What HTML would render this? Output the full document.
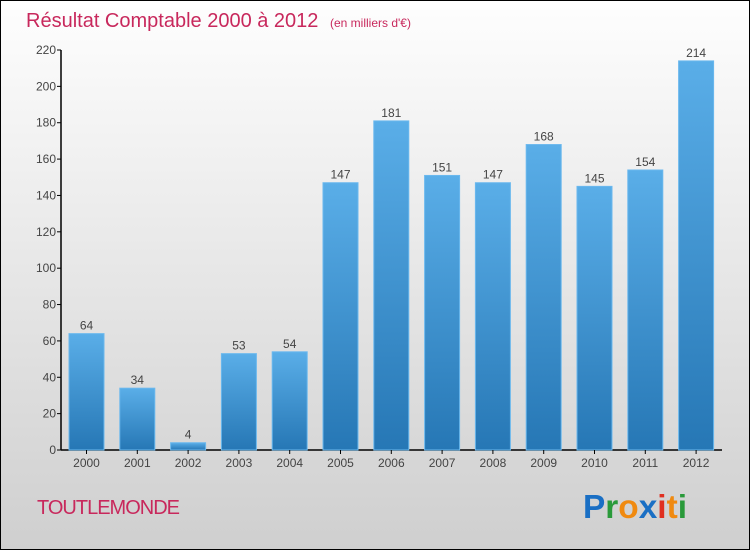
<!DOCTYPE html>
<html><head><meta charset="utf-8"><style>
html,body{margin:0;padding:0}
body{width:750px;height:550px;overflow:hidden;font-family:"Liberation Sans",sans-serif}
#wrap{position:absolute;left:0;top:0;width:748px;height:548px;border:1px solid #000;background:linear-gradient(#fefefe,#cfcfcf)}
</style></head><body>
<div id="wrap">
<svg id="chart" width="748" height="548">
<defs><linearGradient id="g" x1="0" y1="0" x2="0" y2="1"><stop offset="0" stop-color="#5aaee8"/><stop offset="1" stop-color="#2677b5"/></linearGradient></defs>
<text x="25" y="26" font-size="20" fill="#c8285c">Résultat Comptable 2000 à 2012 <tspan font-size="12" dx="6">(en milliers d'€)</tspan></text>
<text x="36" y="513" font-size="20" fill="#c8285c" letter-spacing="-1" font-weight="300">TOUTLEMONDE</text>
<g font-size="33" font-weight="bold" font-family="Liberation Sans,sans-serif">
<text x="582" y="517" textLength="104" lengthAdjust="spacingAndGlyphs"><tspan fill="#1a6fc4">P</tspan><tspan fill="#2a9a3a">r</tspan><tspan fill="#f08a10">o</tspan><tspan fill="#1a6fc4">x</tspan><tspan fill="#e03020">i</tspan><tspan fill="#f08a10">t</tspan><tspan fill="#2a9a3a">i</tspan></text></g>
<g id="plot"></g>
</svg></div>
<script>
const categories=["2000","2001","2002","2003","2004","2005","2006","2007","2008","2009","2010","2011","2012"];
const values=[64,34,4,53,54,147,181,151,147,168,145,154,214];
const yTicks=[0,20,40,60,80,100,120,140,160,180,200,220];
const NS="http://www.w3.org/2000/svg";
const g=document.getElementById('plot');
const y0=449,yScale=400/220;
function y(v){return y0-v*yScale;}
function xc(i){return 85.5+i*50.8;}
function mk(t,a){const e=document.createElementNS(NS,t);for(const k in a)e.setAttribute(k,a[k]);g.appendChild(e);return e;}
let ax=mk('line',{x1:60,y1:y(220),x2:60,y2:y0,stroke:'#000','stroke-width':1.5});


let bx=mk('line',{x1:60,y1:y0,x2:721,y2:y0,stroke:'#000','stroke-width':1.5});


yTicks.forEach(t=>{
 let l=mk('line',{x1:56,x2:60,y1:y(t),y2:y(t),stroke:'#000'});
 
 
 let tx=mk('text',{x:55,y:y(t)+4,'font-size':12,fill:'#444','text-anchor':'end'});
 tx.textContent=t;
 
 
});
categories.forEach((c,i)=>{
 const v=values[i];
 let r=mk('rect',{x:xc(i)-17.5,y:y(v),width:35,height:y0-y(v),fill:'url(#g)',stroke:'#6ab8ee','stroke-width':1});
 
 
 let vl=mk('text',{x:xc(i),y:y(v)-4,'font-size':12,fill:'#444','text-anchor':'middle'});
 vl.textContent=v;
 
 
 let tk=mk('line',{x1:xc(i),x2:xc(i),y1:y0,y2:y0+4,stroke:'#000'});
 
 
 let cl=mk('text',{x:xc(i),y:y0+17,'font-size':12,fill:'#444','text-anchor':'middle'});
 cl.textContent=c;
 
 
});
</script>
</body></html>
